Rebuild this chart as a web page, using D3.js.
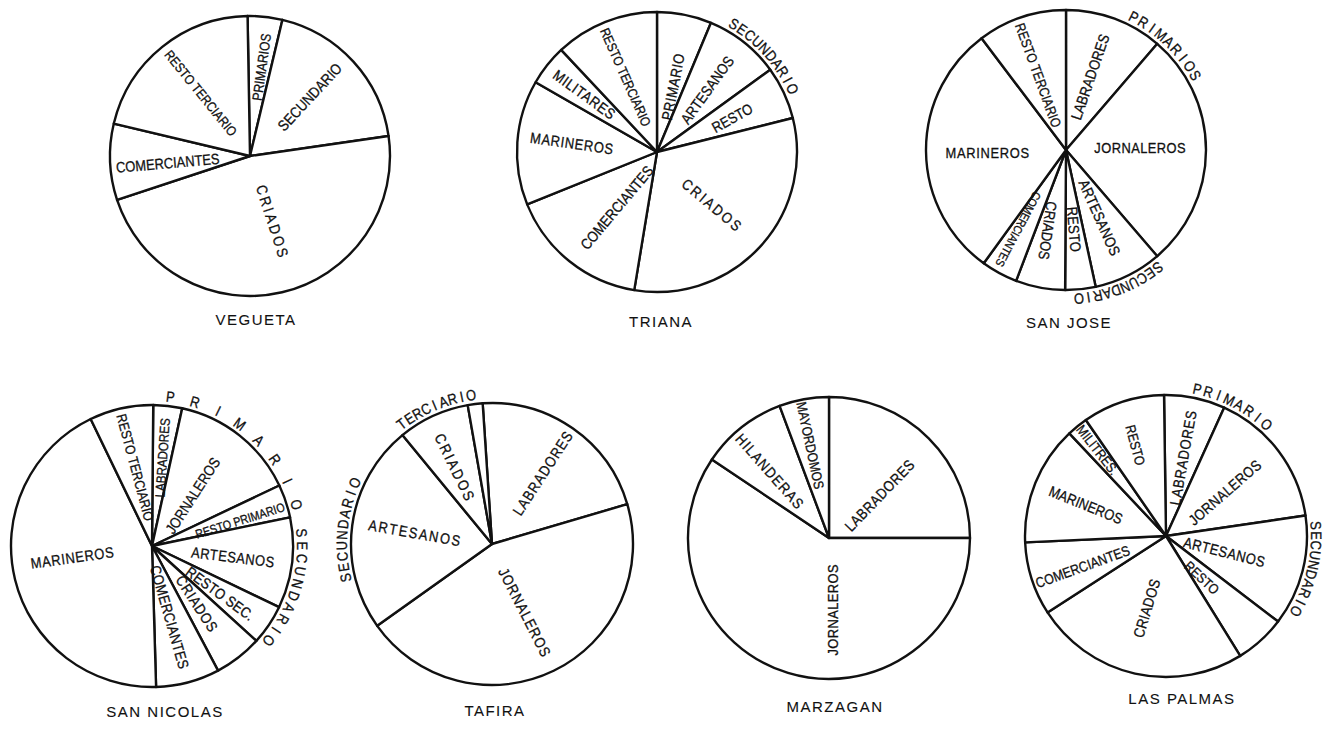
<!DOCTYPE html>
<html lang="es">
<head>
<meta charset="UTF-8">
<title>Estructura profesional por barrios</title>
<script src="https://cdn.jsdelivr.net/npm/d3@7"></script>
<style>
  body { margin: 0; background: #fff; }
  svg text { font-family: "Liberation Sans", Arial, sans-serif; fill: #111; stroke: #111; stroke-width: 0.3; }
  .slice { fill: #fff; stroke: #111; stroke-width: 2.4; stroke-linejoin: round; }
  svg text.title { font-size: 15px; letter-spacing: 1.5px; stroke-width: 0.1; }
</style>
</head>
<body>
<div id="chart"></div>
<script>
var veguetaCats = ["PRIMARIOS", "SECUNDARIO", "CRIADOS", "COMERCIANTES", "RESTO TERCIARIO"];
var veguetaVals = [4.0, 19.0, 47.2, 8.8, 21.0];

var trianaCats = ["PRIMARIO", "ARTESANOS", "RESTO", "CRIADOS", "COMERCIANTES", "MARINEROS", "MILITARES", "RESTO TERCIARIO"];
var trianaVals = [6.3, 8.7, 6.1, 31.5, 16.3, 14.4, 4.7, 12.0];

var sanJoseCats = ["LABRADORES", "JORNALEROS", "ARTESANOS", "RESTO", "CRIADOS", "COMERCIANTES", "MARINEROS", "RESTO TERCIARIO"];
var sanJoseVals = [11.3, 27.4, 7.9, 3.5, 5.7, 4.2, 29.7, 10.3];

var sanNicolasCats = ["LABRADORES", "JORNALEROS", "RESTO PRIMARIO", "ARTESANOS", "RESTO SEC.", "CRIADOS", "COMERCIANTES", "MARINEROS", "RESTO TERCIARIO"];
var sanNicolasVals = [3.3, 14.5, 3.8, 10.4, 4.6, 5.5, 7.3, 43.3, 7.3];

var tafiraCats = ["LABRADORES", "JORNALEROS", "ARTESANOS", "CRIADOS", ""];
var tafiraVals = [21.5, 44.7, 23.9, 8.2, 1.7];

var marzaganCats = ["LABRADORES", "JORNALEROS", "HILANDERAS", "MAYORDOMOS"];
var marzaganVals = [25.0, 59.4, 9.9, 5.7];

var lasPalmasCats = ["LABRADORES", "JORNALEROS", "ARTESANOS", "RESTO", "CRIADOS", "COMERCIANTES", "MARINEROS", "MILITRES.", "RESTO"];
var lasPalmasVals = [7.0, 15.9, 12.7, 5.8, 24.7, 8.4, 13.7, 2.4, 9.4];

// grupos escritos fuera del circulo: texto, angulo primera letra, angulo ultima letra
var trianaGroups = [["SECUNDARIO", 31, 65]];
var sanJoseGroups = [["PRIMARIOS", 27, 60], ["SECUNDARIO", 142, 175]];
var sanNicolasGroups = [["PRIMARIO", 7, 74], ["SECUNDARIO", 85, 129]];
var tafiraGroups = [["SECUNDARIO", 257, 294], ["TERCIARIO", 323, 352]];
var lasPalmasGroups = [["PRIMARIO", 12, 42], ["SECUNDARIO", 86, 120]];

// colocacion de rotulos: [fraccion de radio, desvio angular, giro, espaciado, tamano]
var veguetaLab = [[0.64, 1.3, -82, 0, 14], [0.6, -2.3, -47, 0], [0.5, -5.7, 72, 3.1], [0.59, -2.4, -5, 0], [0.57, 0.4, 51, 0, 13.5]];
var trianaLab = [[0.48, 2.5, -79, 0.6], [0.57, 0.6, -54, 0], [0.59, 0.6, -29, 0], [0.55, 1.3, 40, 2.6],
                 [0.49, -2.8, -50, 0], [0.61, 1.9, 8, 0.8], [0.66, 0, 36, 0.8], [0.58, -1.5, 66, 0, 13.5]];
var sanJoseLab = [[0.55, -2.1, -71, 0.2], [0.53, -1.5, 0, 0.5], [0.54, 0, 66, 0.3], [0.57, 0.2, 85, 0.3],
                  [0.59, 2.1, 98, 0], [0.66, 2.7, 118, 0, 12], [0.56, -1.4, 0, 0.8], [0.57, -1.9, 70, 0, 14]];
var sanNicolasLab = [[0.63, 0.6, -86, 0, 13.5], [0.46, 0.4, -57, 0], [0.65, 2.2, -17.5, 0, 12.5], [0.58, 0.8, 7, 0.6],
                     [0.59, 0.9, 36, 0.3], [0.52, -0.1, 57, 0.9], [0.52, 0.9, 74, 0.3], [0.57, 5.4, -8, 0.8], [0.57, 0.6, 75, 0, 14]];
var tafiraLab = [[0.62, 0.7, -57, 1.1], [0.54, 0.3, 63, 1.3], [0.55, 0.6, 10, 2], [0.6, -1.2, 64, 2.6], [0, 0, 0, 0]];
var marzaganLab = [[0.47, 4.9, -46, 0.6], [0.51, -20, -90, 0.5], [0.63, -3.3, 48.5, 1.5], [0.67, -1.2, 78, 0, 14]];
var lasPalmasLab = [[0.57, 0.5, -80, 1], [0.52, 0.4, -41, 0.4], [0.43, 0.8, 14, 0.6], [0.39, 1.7, 43, 0, 14],
                    [0.53, 2.3, -73, 0.3], [0.63, -2.6, -20, 0, 14.3], [0.61, -0.85, 22, 0], [0.78, 0.45, 52, 0, 14], [0.68, -1, 75, 0, 14]];

var pies = [
  {name: "VEGUETA", cats: veguetaCats, vals: veguetaVals, lab: veguetaLab, groups: [], cx: 250, cy: 156, r: 140, start: -1, tx: 256, ty: 319},
  {name: "TRIANA", cats: trianaCats, vals: trianaVals, lab: trianaLab, groups: trianaGroups, cx: 657, cy: 152, r: 140, start: 0, tx: 661, ty: 321},
  {name: "SAN JOSE", cats: sanJoseCats, vals: sanJoseVals, lab: sanJoseLab, groups: sanJoseGroups, cx: 1066, cy: 150, r: 140, start: 0, tx: 1069, ty: 322},
  {name: "SAN NICOLAS", cats: sanNicolasCats, vals: sanNicolasVals, lab: sanNicolasLab, groups: sanNicolasGroups, cx: 152, cy: 546, r: 141, start: 0.5, tx: 165, ty: 711},
  {name: "TAFIRA", cats: tafiraCats, vals: tafiraVals, lab: tafiraLab, groups: tafiraGroups, cx: 492, cy: 544, r: 141, start: -3.8, tx: 495, ty: 710},
  {name: "MARZAGAN", cats: marzaganCats, vals: marzaganVals, lab: marzaganLab, groups: [], cx: 829, cy: 538, r: 141, start: 0, tx: 835, ty: 706},
  {name: "LAS PALMAS", cats: lasPalmasCats, vals: lasPalmasVals, lab: lasPalmasLab, groups: lasPalmasGroups, cx: 1166, cy: 536, r: 141, start: -0.8, tx: 1182, ty: 698}
];

var width = 1326, height = 731;
var rad = Math.PI / 180;
var squeeze = 0.86;   // letra estrecha de rotulacion

var svg = d3.select("#chart").append("svg")
    .attr("width", width)
    .attr("height", height);

pies.forEach(drawPie);

function drawPie(p) {
    var g = svg.append("g").attr("transform", "translate(" + p.cx + "," + p.cy + ")");

    var pie = d3.pie().sort(null).value(function(d) { return d; })
        .startAngle(p.start * rad).endAngle(p.start * rad + 2 * Math.PI);
    var arc = d3.arc().innerRadius(0).outerRadius(p.r);
    var arcs = pie(p.vals);

    g.selectAll(".slice")
      .data(arcs)
      .enter().append("path")
        .attr("class", "slice")
        .attr("d", arc);

    // rotulos dentro de los sectores
    g.selectAll(".lab")
      .data(arcs)
      .enter().append("text")
        .attr("class", "lab")
        .attr("text-anchor", "middle")
        .attr("dominant-baseline", "central")
        .attr("transform", function(d, i) {
            var l = p.lab[i];
            var a = (d.startAngle + d.endAngle) / 2 + l[1] * rad;
            var rr = l[0] * p.r;
            return "translate(" + (rr * Math.sin(a)) + "," + (-rr * Math.cos(a)) + ") rotate(" + l[2] + ") scale(" + squeeze + ",1)";
        })
        .style("font-size", function(d, i) { return (p.lab[i][4] || 15) + "px"; })
        .style("letter-spacing", function(d, i) { return p.lab[i][3] + "px"; })
        .text(function(d, i) { return p.cats[i]; });

    // grupos curvados por fuera del circulo
    p.groups.forEach(function(gr) {
        var chars = gr[0].split("");
        var n = chars.length;
        var rr = p.r + 4;
        g.append("g").selectAll("text")
          .data(chars)
          .enter().append("text")
            .attr("text-anchor", "middle")
            .style("font-size", "15px")
            .attr("transform", function(c, i) {
                var a = gr[1] + (gr[2] - gr[1]) * i / (n - 1);
                return "translate(" + (rr * Math.sin(a * rad)) + "," + (-rr * Math.cos(a * rad)) + ") rotate(" + a + ") scale(" + squeeze + ",1)";
            })
            .text(function(c) { return c; });
    });

    svg.append("text")
        .attr("class", "title")
        .attr("x", p.tx)
        .attr("y", p.ty)
        .attr("text-anchor", "middle")
        .attr("dominant-baseline", "central")
        .text(p.name);
}
</script>
</body>
</html>
